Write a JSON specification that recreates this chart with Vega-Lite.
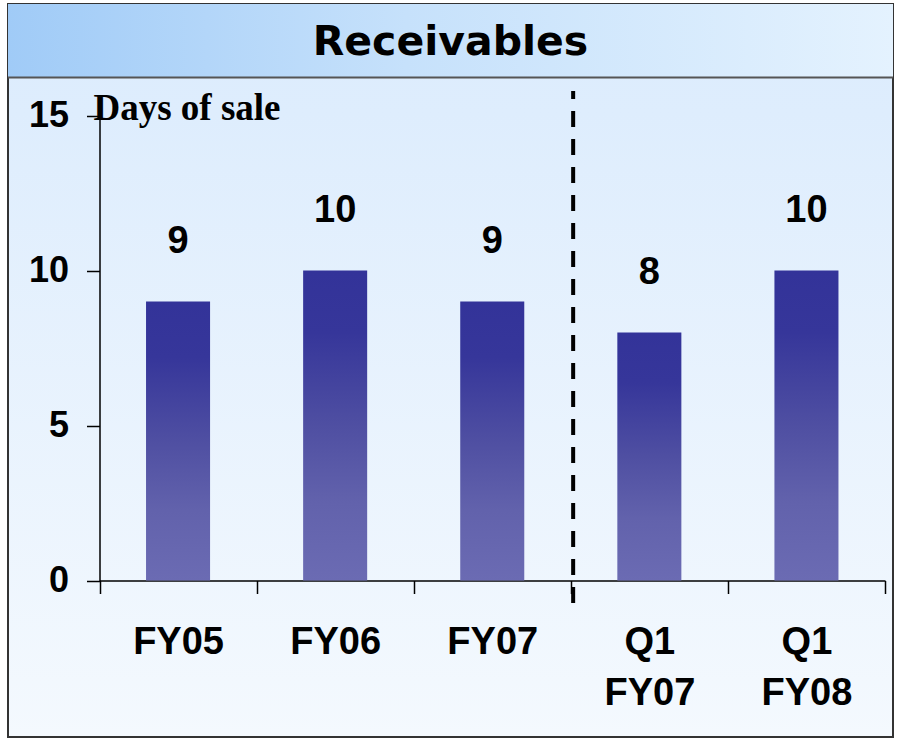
{
  "$schema": "https://vega.github.io/schema/vega-lite/v6.json",
  "width": 885,
  "height": 733,
  "autosize": {"type": "none"},
  "padding": {"left": 8, "top": 4, "right": 4, "bottom": 3},
  "background": "#ffffff",
  "title": {
    "text": "Receivables",
    "font": "DejaVu Sans",
    "fontSize": 41,
    "fontWeight": "bold",
    "color": "#000000",
    "anchor": "middle",
    "frame": "group",
    "orient": "top",
    "baseline": "middle",
    "offset": -38,
    "dy": 42,
    "zindex": 2
  },
  "config": {
    "view": {
      "stroke": "#333333",
      "strokeWidth": 2,
      "fill": {
        "gradient": "linear",
        "x1": 0, "y1": 0, "x2": 0, "y2": 1,
        "stops": [
          {"offset": 0, "color": "#dcecfd"},
          {"offset": 0.15, "color": "#deedfd"},
          {"offset": 1, "color": "#f4f9fe"}
        ]
      }
    }
  },
  "resolve": {"axis": {"x": "independent", "y": "independent"}},
  "data": {
    "values": [
      {"cat": "FY05", "val": 9},
      {"cat": "FY06", "val": 10},
      {"cat": "FY07", "val": 9},
      {"cat": "Q1 FY07", "val": 8},
      {"cat": "Q1 FY08", "val": 10}
    ]
  },
  "layer": [
    {
      "data": {"values": [{}]},
      "mark": {
        "type": "rect",
        "fill": {
          "gradient": "linear",
          "x1": 0, "y1": 0, "x2": 1, "y2": 0,
          "stops": [
            {"offset": 0, "color": "#a0cbf7"},
            {"offset": 0.45, "color": "#c6e1fb"},
            {"offset": 1, "color": "#e4f2fe"}
          ]
        }
      },
      "encoding": {
        "x": {"value": 0},
        "x2": {"value": "width"},
        "y": {"datum": 18.6, "type": "quantitative", "axis": null},
        "y2": {"datum": 16.226}
      }
    },
    {
      "data": {"values": [{}]},
      "mark": {"type": "rule", "color": "#555555", "strokeWidth": 2},
      "encoding": {
        "x": {"value": 0},
        "x2": {"value": "width"},
        "y": {"datum": 16.226, "type": "quantitative", "axis": null}
      }
    },
    {
      "mark": {
        "type": "bar",
        "width": {"band": 0.4076},
        "fill": {
          "gradient": "linear",
          "x1": 0, "y1": 0, "x2": 0, "y2": 1,
          "stops": [
            {"offset": 0, "color": "#333399"},
            {"offset": 0.2, "color": "#36369a"},
            {"offset": 0.5, "color": "#4f4fa2"},
            {"offset": 0.75, "color": "#6262ac"},
            {"offset": 1, "color": "#6b6bb3"}
          ]
        }
      },
      "encoding": {
        "x": {
          "field": "cat",
          "type": "nominal",
          "sort": null,
          "scale": {"range": [91.5, 877], "paddingInner": 0, "paddingOuter": 0},
          "axis": {
            "title": null,
            "orient": "bottom",
            "offset": -156.5,
            "tickBand": "extent",
            "domainColor": "#000000",
            "domainWidth": 1.5,
            "tickColor": "#000000",
            "tickWidth": 1.5,
            "tickSize": 13,
            "labelAngle": 0,
            "labelFont": "Liberation Sans",
            "labelFontSize": 38,
            "labelFontWeight": "bold",
            "labelColor": "#000000",
            "labelBaseline": "top",
            "labelPadding": 30,
            "labelLineHeight": 51,
            "labelExpr": "split(datum.label, ' ')"
          }
        },
        "y": {
          "field": "val",
          "type": "quantitative",
          "scale": {"domain": [0, 15], "range": [576.5, 111.5], "nice": false, "zero": true},
          "axis": {
            "title": "Days of sale",
            "orient": "left",
            "offset": -91.5,
            "values": [0, 5, 10, 15],
            "grid": false,
            "domainColor": "#000000",
            "domainWidth": 1.5,
            "tickColor": "#000000",
            "tickWidth": 1.5,
            "tickSize": 13,
            "labelFont": "Liberation Sans",
            "labelFontSize": 36,
            "labelFontWeight": "bold",
            "labelColor": "#000000",
            "labelPadding": 18,
            "labelBaseline": "middle",
            "titleAngle": 0,
            "titleAlign": "left",
            "titleBaseline": "middle",
            "titleX": -6.5,
            "titleY": 104,
            "titleFont": "Liberation Serif",
            "titleFontSize": 37,
            "titleFontWeight": "bold",
            "titleColor": "#000000"
          }
        }
      }
    },
    {
      "mark": {
        "type": "text",
        "dy": -60,
        "font": "Liberation Sans",
        "fontSize": 38,
        "fontWeight": "bold",
        "color": "#000000",
        "baseline": "middle"
      },
      "encoding": {
        "x": {"field": "cat", "type": "nominal", "sort": null, "axis": null},
        "y": {"field": "val", "type": "quantitative", "axis": null},
        "text": {"field": "val", "type": "quantitative"}
      }
    },
    {
      "data": {"values": [{}]},
      "mark": {"type": "rule", "color": "#000000", "strokeWidth": 4, "strokeDash": [16, 12], "strokeDashOffset": 8},
      "encoding": {
        "x": {"datum": "Q1 FY07", "type": "nominal", "bandPosition": 0.015, "axis": null},
        "y": {"datum": 15.79, "type": "quantitative", "axis": null},
        "y2": {"datum": -0.726}
      }
    }
  ]
}
